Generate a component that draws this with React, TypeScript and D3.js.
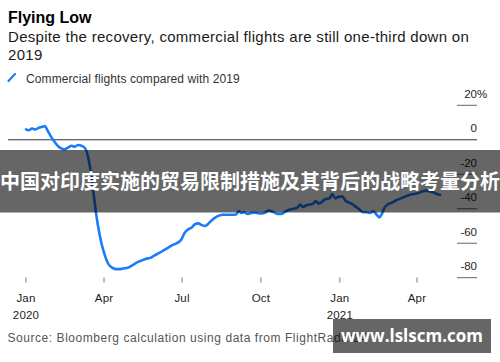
import * as d3 from 'd3'

// Commercial flights compared with 2019 (%)
const dates = [
  '2020-01-01', '2020-01-04', '2020-01-08', '2020-01-12', '2020-01-16', '2020-01-20', '2020-01-23',
  '2020-01-26', '2020-01-30', '2020-02-03', '2020-02-07', '2020-02-11', '2020-02-15', '2020-02-19',
  '2020-02-23', '2020-02-27', '2020-03-02', '2020-03-06', '2020-03-10', '2020-03-13', '2020-03-16',
  '2020-03-19', '2020-03-22', '2020-03-25', '2020-03-29', '2020-04-02', '2020-04-06', '2020-04-10',
  '2020-04-15', '2020-04-20', '2020-04-25', '2020-04-30', '2020-05-05', '2020-05-10', '2020-05-15',
  '2020-05-20', '2020-05-25', '2020-05-30', '2020-06-05', '2020-06-10', '2020-06-15', '2020-06-20',
  '2020-06-25', '2020-06-30', '2020-07-04', '2020-07-08', '2020-07-12', '2020-07-16', '2020-07-20',
  '2020-07-24', '2020-07-28', '2020-08-01', '2020-08-05', '2020-08-09', '2020-08-13', '2020-08-18',
  '2020-08-23', '2020-08-28', '2020-09-02', '2020-09-05', '2020-09-08', '2020-09-11', '2020-09-15',
  '2020-09-20', '2020-09-25', '2020-09-30', '2020-10-05', '2020-10-10', '2020-10-15', '2020-10-20',
  '2020-10-25', '2020-10-30', '2020-11-04', '2020-11-08', '2020-11-12', '2020-11-16', '2020-11-19',
  '2020-11-23', '2020-11-27', '2020-12-01', '2020-12-04', '2020-12-07', '2020-12-11', '2020-12-15',
  '2020-12-20', '2020-12-23', '2020-12-27', '2020-12-31', '2021-01-04', '2021-01-08', '2021-01-12',
  '2021-01-16', '2021-01-20', '2021-01-24', '2021-01-28', '2021-02-01', '2021-02-05', '2021-02-09',
  '2021-02-13', '2021-02-16', '2021-02-19', '2021-02-22', '2021-02-26', '2021-03-03', '2021-03-08',
  '2021-03-13', '2021-03-18', '2021-03-23', '2021-03-28', '2021-04-02', '2021-04-07', '2021-04-12',
  '2021-04-16', '2021-04-20', '2021-04-24', '2021-04-28',
]
const values = [
  6, 5.5, 6.5, 6, 7, 7.5, 8,
  5.5, 2, -1, -3.5, -5, -5.5, -4.5,
  -3.5, -4, -3, -3.5, -5, -9, -17,
  -28, -40, -50, -60, -67, -72, -74,
  -75, -75, -74.5, -74, -72.5, -71, -70,
  -69, -68.5, -67, -65.5, -64, -62.5, -61,
  -60, -58, -54, -52, -51, -49, -48.5,
  -49.5, -50, -48.5, -46.5, -45, -44, -43.5,
  -43.5, -43.5, -43.3, -41.5, -42.5, -42, -43,
  -42.5, -42.3, -42.8, -42.5, -41, -41.8, -43,
  -43, -41.5, -40.5, -40, -39.5, -37.5, -39,
  -38, -37.5, -37, -35.5, -37, -36, -34.5,
  -34, -31.5, -34, -33, -33, -35.5, -36.5,
  -37.5, -39, -40.5, -42, -42, -42.5, -41.5,
  -43.5, -45, -43, -39.5, -37.5, -36.5, -35,
  -34, -33, -32, -31.5, -31, -30, -29.5,
  -30, -30.5, -31.5, -32,
]

const yTicks = [20, 0, -20, -40, -60, -80]
const xTicks = ['2020-01-01', '2020-04-01', '2020-07-01', '2020-10-01', '2021-01-01', '2021-04-01']
const xTickLabels = ['Jan', 'Apr', 'Jul', 'Oct', 'Jan', 'Apr']
const xTickYears = ['2020', '', '', '', '2021', '']

const FONT = '"Liberation Sans", Arial, Helvetica, sans-serif'
const BLUE = '#1a7cf8'

export default function App() {
  const parse = d3.utcParse('%Y-%m-%d')
  const data = dates.map((d, i) => ({ date: parse(d)!, value: values[i] }))

  const x = d3
    .scaleUtc()
    .domain([parse('2020-01-01')!, parse('2021-04-01')!])
    .range([26, 417])
  const y = d3.scaleLinear().domain([-80, 20]).range([277.7, 105.3])

  const line = d3
    .line<{ date: Date; value: number }>()
    .x((d) => x(d.date))
    .y((d) => y(d.value))
    .curve(d3.curveMonotoneX)

  return (
    <svg
      width={500}
      height={362}
      style={{ position: 'absolute', left: 0, top: 0, background: '#fff' }}
      fontFamily={FONT}
    >
      <rect width={500} height={362} fill="#fff" />
      <text x={8} y={23} fontSize={16} fontWeight="bold" fill="#000">
        Flying Low
      </text>
      <text x={8} y={42} fontSize={15} letterSpacing={0.3} fill="#1a1a1a">
        Despite the recovery, commercial flights are still one-third down on
      </text>
      <text x={8} y={60} fontSize={15} letterSpacing={0.3} fill="#1a1a1a">
        2019
      </text>
      <line x1={8.5} y1={81} x2={15} y2={74} stroke={BLUE} strokeWidth={2.2} strokeLinecap="round" />
      <text x={26} y={82.5} fontSize={12} letterSpacing={0.1} fill="#333">
        Commercial flights compared with 2019
      </text>

      {/* y axis on the right: labels sit above short tick lines */}
      {yTicks.map((t) => (
        <g key={t}>
          {t === 0 ? (
            <line x1={8} x2={477} y1={y(t)} y2={y(t)} stroke="#333" strokeWidth={1} />
          ) : (
            <line x1={457} x2={477} y1={y(t)} y2={y(t)} stroke="#666" strokeWidth={1} />
          )}
          <text x={477} y={y(t) - 7.5} fontSize={11.5} fill="#222" textAnchor="end">
            {t}
          </text>
          {t === 20 && (
            <text x={477} y={y(t) - 7.5} fontSize={11.5} fill="#222">
              %
            </text>
          )}
        </g>
      ))}

      {/* x axis */}
      {xTicks.map((t, i) => {
        const px = x(parse(t)!)
        return (
          <g key={t}>
            <line x1={px} x2={px} y1={277.5} y2={282.5} stroke="#777" strokeWidth={1} />
            <text x={px} y={301.5} fontSize={11.5} letterSpacing={0.2} fill="#222" textAnchor="middle">
              {xTickLabels[i]}
            </text>
            {xTickYears[i] && (
              <text x={px} y={319} fontSize={11.5} letterSpacing={0.2} fill="#222" textAnchor="middle">
                {xTickYears[i]}
              </text>
            )}
          </g>
        )
      })}

      <path d={line(data) ?? ''} fill="none" stroke={BLUE} strokeWidth={2.6} strokeLinejoin="round" strokeLinecap="round" />

      <text x={7.5} y={341.5} fontSize={12} letterSpacing={0.55} fill="#555">
        Source: Bloomberg calculation using data from FlightRadar24
      </text>

      {/* overlay banner */}
      <rect x={0} y={150} width={500} height={62.5} fill="#000" fillOpacity={0.6} />
      <text
        x={250}
        y={189}
        fontSize={20}
        fontWeight="bold"
        fill="#fff"
        textAnchor="middle"
        fontFamily='"Noto Sans CJK SC", sans-serif'
      >
        中国对印度实施的贸易限制措施及其背后的战略考量分析
      </text>

      {/* watermark */}
      <rect x={333} y={319} width={158} height={34} fill="#000" fillOpacity={0.6} />
      <text x={412} y={342} fontSize={17} fontWeight="bold" fill="#fff" textAnchor="middle" fontFamily='"Open Sans", "DejaVu Sans", sans-serif'>
        www.lslscm.com
      </text>
    </svg>
  )
}
